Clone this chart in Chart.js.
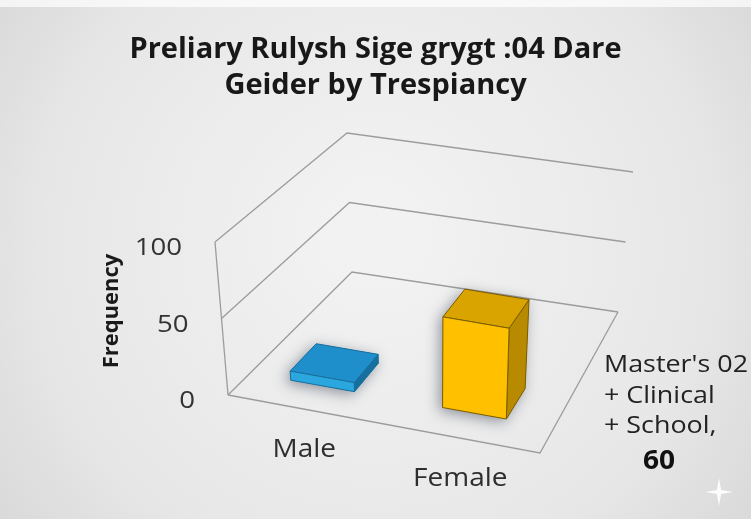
<!DOCTYPE html>
<html><head><meta charset="utf-8">
<script src="https://cdn.jsdelivr.net/npm/chart.js@4/dist/chart.umd.min.js"></script>
<style>html,body{margin:0;padding:0;background:#e4e4e4;}canvas{display:block;}</style>
</head><body>
<canvas id="c" width="751" height="519"></canvas>
<script>
// ---- data ----
const titleLines = ["Preliary Rulysh Sige grygt :04 Dare", "Geider by Trespiancy"];
const categories = ["Male", "Female"];
const seriesName = "Master's 02 + Clinical + School";
const values = [6, 60];
const barColors = ["#2ba7df", "#ffc000"];
const yTicks = [0, 50, 100];
const yTitle = "Frequency";
const labelledIndex = 1; // data label shown for Female

// ---- layout / styling ----
const FRAME = { // screen corners of the 3D plot box: c[u][v][w]
  c000:[228,395], c100:[540,453], c001:[352,272], c101:[618,312],
  c010:[215,242], c110:[546,299], c011:[347,133], c111:[633,172]
};
const DEPTH = [0.18, 0.40];
const shade = {
  "#2ba7df": {top:"#1e8fcb", side:"#176f9f", edge:"#1a6f9c"},
  "#ffc000": {top:"#d9a300", side:"#b88a00", edge:"#7a5c00"}
};
function lerp(a,b,t){return [a[0]+(b[0]-a[0])*t, a[1]+(b[1]-a[1])*t];}
function P(u,v,w){
  const F=FRAME;
  const a=lerp(F.c000,F.c100,u), b=lerp(F.c001,F.c101,u);
  const c=lerp(F.c010,F.c110,u), d=lerp(F.c011,F.c111,u);
  return lerp(lerp(a,b,w), lerp(c,d,w), v);
}
function poly(ctx, pts){ctx.beginPath();pts.forEach((p,i)=>i?ctx.lineTo(p[0],p[1]):ctx.moveTo(p[0],p[1]));ctx.closePath();}
function txt(ctx,s,x,y,font,align,color,sx){
  ctx.save();ctx.font=font;ctx.fillStyle=color;ctx.textBaseline='alphabetic';ctx.textAlign=align;
  ctx.translate(x,y);ctx.scale(sx||1,1);ctx.fillText(s,0,0);ctx.restore();
}

const bgPlugin = {
  id:'bg',
  beforeDraw(chart){
    const ctx=chart.ctx, W=chart.width, H=chart.height;
    ctx.save();
    const g=ctx.createRadialGradient(W*0.5,H*0.45,40,W*0.5,H*0.5,520);
    g.addColorStop(0,'#f2f2f2');g.addColorStop(0.6,'#e7e7e7');g.addColorStop(1,'#d3d3d3');
    ctx.fillStyle=g;ctx.fillRect(0,0,W,H);
    ctx.fillStyle='rgba(255,255,255,0.7)';ctx.fillRect(0,0,W,7);
    ctx.restore();
  }
};

const plot3d = {
  id:'plot3d',
  afterDatasetsDraw(chart){
    const ctx=chart.ctx, xs=chart.scales.x, ys=chart.scales.y;
    const nv = val => (ys.bottom - ys.getPixelForValue(val))/(ys.bottom-ys.top);
    const nu = px => (px - xs.left)/(xs.right-xs.left) - 0.012;
    ctx.save();
    // walls + gridlines
    ctx.strokeStyle='#9c9c9c';ctx.lineWidth=1.3;ctx.lineJoin='miter';
    ys.ticks.forEach(t=>{
      const v=nv(t.value);
      const a=P(0,v,0), b=P(0,v,1), c=P(1,v,1);
      ctx.beginPath();ctx.moveTo(a[0],a[1]);ctx.lineTo(b[0],b[1]);ctx.lineTo(c[0],c[1]);ctx.stroke();
    });
    let a=P(0,0,0), b=P(0,1,0);
    ctx.beginPath();ctx.moveTo(a[0],a[1]);ctx.lineTo(b[0],b[1]);ctx.stroke();
    const f1=P(1,0,0), f2=P(1,0,1);
    ctx.beginPath();ctx.moveTo(a[0],a[1]);ctx.lineTo(f1[0],f1[1]);ctx.lineTo(f2[0],f2[1]);ctx.stroke();
    // tick labels
    ys.ticks.forEach(t=>{
      const p=P(0,nv(t.value),0);
      txt(ctx,String(t.value),p[0]-33,p[1]+13,"24px 'Open Sans'",'right','#333333',1.15);
    });
    // axis title
    ctx.save();ctx.translate(112,311);ctx.rotate(-Math.PI/2);
    ctx.font="bold 22px 'Open Sans'";ctx.fillStyle='#1a1a1a';ctx.textAlign='center';ctx.textBaseline='middle';
    ctx.fillText(yTitle,0,0);ctx.restore();
    // bars
    const meta=chart.getDatasetMeta(0);
    meta.data.forEach((el,i)=>{
      const p=el.getProps(['x','y','base','width'],true);
      const u0=nu(p.x-p.width/2), u1=nu(p.x+p.width/2);
      const vb=(ys.bottom-p.base)/(ys.bottom-ys.top), vt=(ys.bottom-p.y)/(ys.bottom-ys.top);
      const [w0,w1]=DEPTH;
      const col=chart.data.datasets[0].faceColors[i], s=shade[col];
      const front=[P(u0,vb,w0),P(u1,vb,w0),P(u1,vt,w0),P(u0,vt,w0)];
      const side=[P(u1,vb,w0),P(u1,vb,w1),P(u1,vt,w1),P(u1,vt,w0)];
      const top=[P(u0,vt,w0),P(u1,vt,w0),P(u1,vt,w1),P(u0,vt,w1)];
      // soft shadow
      ctx.save();ctx.shadowColor='rgba(40,50,70,0.5)';ctx.shadowBlur=14;ctx.shadowOffsetX=-3;ctx.shadowOffsetY=3;
      poly(ctx,[P(u0,vb,w0),P(u1,vb,w0),P(u1,vb,w1),P(u1,vt,w1),P(u0,vt,w1),P(u0,vt,w0)]);
      ctx.fillStyle=col;ctx.fill();ctx.restore();
      ctx.lineWidth=1;ctx.strokeStyle=s.edge;
      poly(ctx,side);ctx.fillStyle=s.side;ctx.fill();ctx.stroke();
      poly(ctx,top);ctx.fillStyle=s.top;ctx.fill();ctx.stroke();
      poly(ctx,front);ctx.fillStyle=col;ctx.fill();ctx.stroke();
    });
    // category labels
    chart.data.labels.forEach((lab,i)=>{
      const p=P(nu(xs.getPixelForValue(i)),0,0);
      txt(ctx,lab,p[0]+2,p[1]+48,"25px 'Open Sans'",'center','#2e2e2e',1.12);
    });
    // data label
    const parts=seriesName.split(' + ');
    const lines=parts.map((s,i)=>(i?'+ ':'')+s+(i===parts.length-1?',':''));
    lines.forEach((s,i)=>txt(ctx,s,604,372+i*30.5,"24px 'Open Sans'",'left','#222222',1.12));
    txt(ctx,String(chart.data.datasets[0].data[labelledIndex]),659,469,"bold 26px 'Open Sans'",'center','#111111',1.08);
    // sparkle mark
    ctx.save();ctx.translate(719,492);ctx.fillStyle='rgba(255,255,255,0.9)';
    ctx.beginPath();
    for(let k=0;k<4;k++){const ang=k*Math.PI/2;ctx.lineTo(Math.cos(ang)*14,Math.sin(ang)*14);ctx.lineTo(Math.cos(ang+Math.PI/4)*3,Math.sin(ang+Math.PI/4)*3);}
    ctx.closePath();ctx.fill();ctx.restore();
    ctx.restore();
  }
};

new Chart(document.getElementById('c'), {
  type:'bar',
  data:{labels:categories, datasets:[{label:seriesName, data:values, faceColors:barColors,
    backgroundColor:'rgba(0,0,0,0)', borderWidth:0, barPercentage:0.42, categoryPercentage:1}]},
  options:{
    responsive:false, animation:false, devicePixelRatio:1,
    layout:{padding:{left:0,right:0,top:0,bottom:0}},
    plugins:{
      legend:{display:false}, tooltip:{enabled:false},
      title:{display:true, text:titleLines, color:'#181818', align:'center',
        font:{family:"'Open Sans'", size:29, weight:'bold', lineHeight:1.26}, padding:{top:31,bottom:10}}
    },
    scales:{
      x:{display:false, offset:true},
      y:{display:false, min:0, max:100, ticks:{stepSize:50}}
    }
  },
  plugins:[bgPlugin, plot3d]
});
</script>
</body></html>
